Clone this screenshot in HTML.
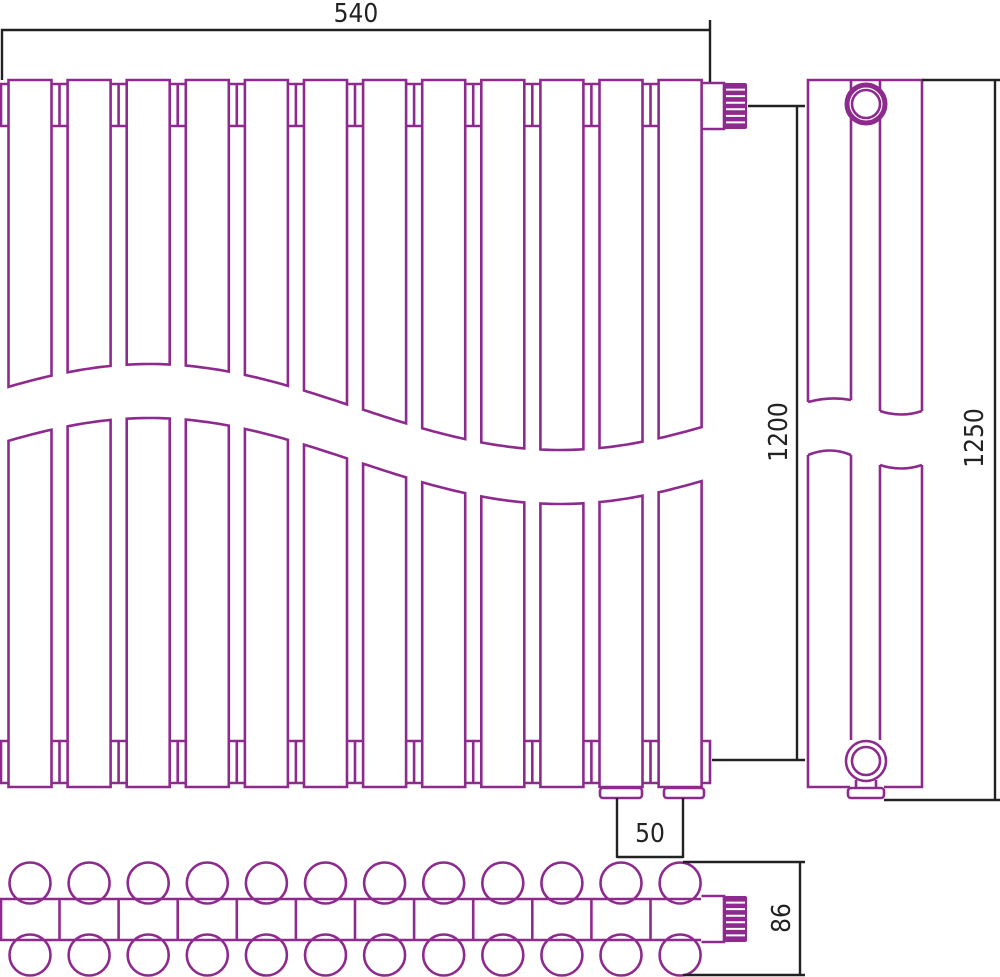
<!DOCTYPE html>
<html><head><meta charset="utf-8">
<style>
html,body{margin:0;padding:0;background:#fff;}
svg{display:block;}
text{font-family:"DejaVu Sans Condensed","Liberation Sans",sans-serif;font-size:26px;fill:#222;}
</style></head>
<body>
<svg id="s" width="1000" height="977" viewBox="0 0 1000 977" xmlns="http://www.w3.org/2000/svg">
<g id="p" fill="none" stroke="#8e2a8e" stroke-width="2.6"></g>
<g id="d" fill="none" stroke="#222" stroke-width="2.4">
  <path d="M2 80V30H710V20M710 30V82"/>
  <path d="M748 106H805M797 106V760M712 760H805"/>
  <path d="M922 80H1000M995 80V800M884 800H1000"/>
  <path d="M617 798V858M683 798V858M617 857H683"/>
  <path d="M683 862H805M800 862V975M683 975H805"/>
</g>
<text x="356" y="22" text-anchor="middle">540</text>
<text x="650" y="842" text-anchor="middle">50</text>
<text transform="translate(787,432) rotate(-90)" text-anchor="middle">1200</text>
<text transform="translate(983,438) rotate(-90)" text-anchor="middle">1250</text>
<text transform="translate(790,918) rotate(-90)" text-anchor="middle">86</text>
</svg>
<script>
var g=document.getElementById('p'),h='',cols='';
function f(x){return 407+43*Math.cos(2*Math.PI*(x-560)/820);}
function pts(x1,x2,off,rev){var s='';for(var k=0;k<=8;k++){var kk=rev?8-k:k;var x=x1+(x2-x1)*kk/8;s+='L'+x.toFixed(1)+' '+(f(x)+off).toFixed(1);}return s;}
for(var i=0;i<12;i++){
  var x1=8.5+59.1*i,x2=x1+43;
  cols+='<path fill="#fff" d="M'+x1+' 80L'+x2+' 80'+pts(x1,x2,0,true)+'Z"/>';
  cols+='<path fill="#fff" d="M'+x1+' '+(f(x1)+54).toFixed(1)+pts(x1,x2,54,false)+'L'+x2+' 787L'+x1+' 787Z"/>';
  if(i<11){var a=x2-3,b=x2+19,m=x2+8;
    h+='<path d="M'+a+' 84H'+b+'V126H'+a+'ZM'+m+' 84V126"/>';
    h+='<path d="M'+a+' 741H'+b+'V783H'+a+'ZM'+m+' 741V783"/>';}
  var cx=30+59.1*i;
  h+='<circle cx="'+cx+'" cy="883" r="20.5"/><circle cx="'+cx+'" cy="955" r="20.5"/>';
  if(i<11)h+='<path d="M'+(cx+29.5)+' 899V940"/>';
}
h+='<path d="M1 84H12V126H1ZM1 741H12V783H1Z"/>';
h+='<path d="M698 741H710V783H698Z"/>';
h+=cols;
function valve(y1,y2){var r='<path d="M701.5 '+y1+'H724V'+y2+'H701.5"/>';
  r+='<rect x="724" y="'+y1+'" width="23" height="'+(y2-y1)+'" fill="#8e2a8e" stroke="none" rx="2"/>';
  for(var k=1;k<7;k++){var yy=y1+(y2-y1)*k/7;r+='<path d="M726 '+yy.toFixed(1)+'H745" stroke="#fff" stroke-width="2"/>';}
  return r;}
h+=valve(83,129);
h+=valve(896,942);
h+='<path d="M0 899H701M0 940H701M1 899V940"/>';
h+='<rect x="600" y="788" width="42" height="10" rx="3"/><rect x="664" y="788" width="40" height="10" rx="3"/>';
h+='<path d="M808 402V80H922V411M851 80V400M880 80V411"/>';
h+='<path d="M808 402Q830 396 851 400M880 411Q901 418 922 411"/>';
h+='<path d="M808 455Q830 446 851 455M880 465Q901 472 922 465"/>';
h+='<path d="M808 455V787H850M851 455V740M880 465V740M922 465V787H884"/>';
h+='<circle cx="866" cy="104" r="19" stroke-width="5" fill="#fff"/><circle cx="866" cy="104" r="14"/>';
h+='<circle cx="866" cy="761" r="20" fill="#fff"/><circle cx="866" cy="761" r="14"/>';
h+='<path d="M856 780V788M876 780V788"/><rect x="848" y="788" width="36" height="10" rx="3"/>';
g.innerHTML=h;
</script>
</body></html>
